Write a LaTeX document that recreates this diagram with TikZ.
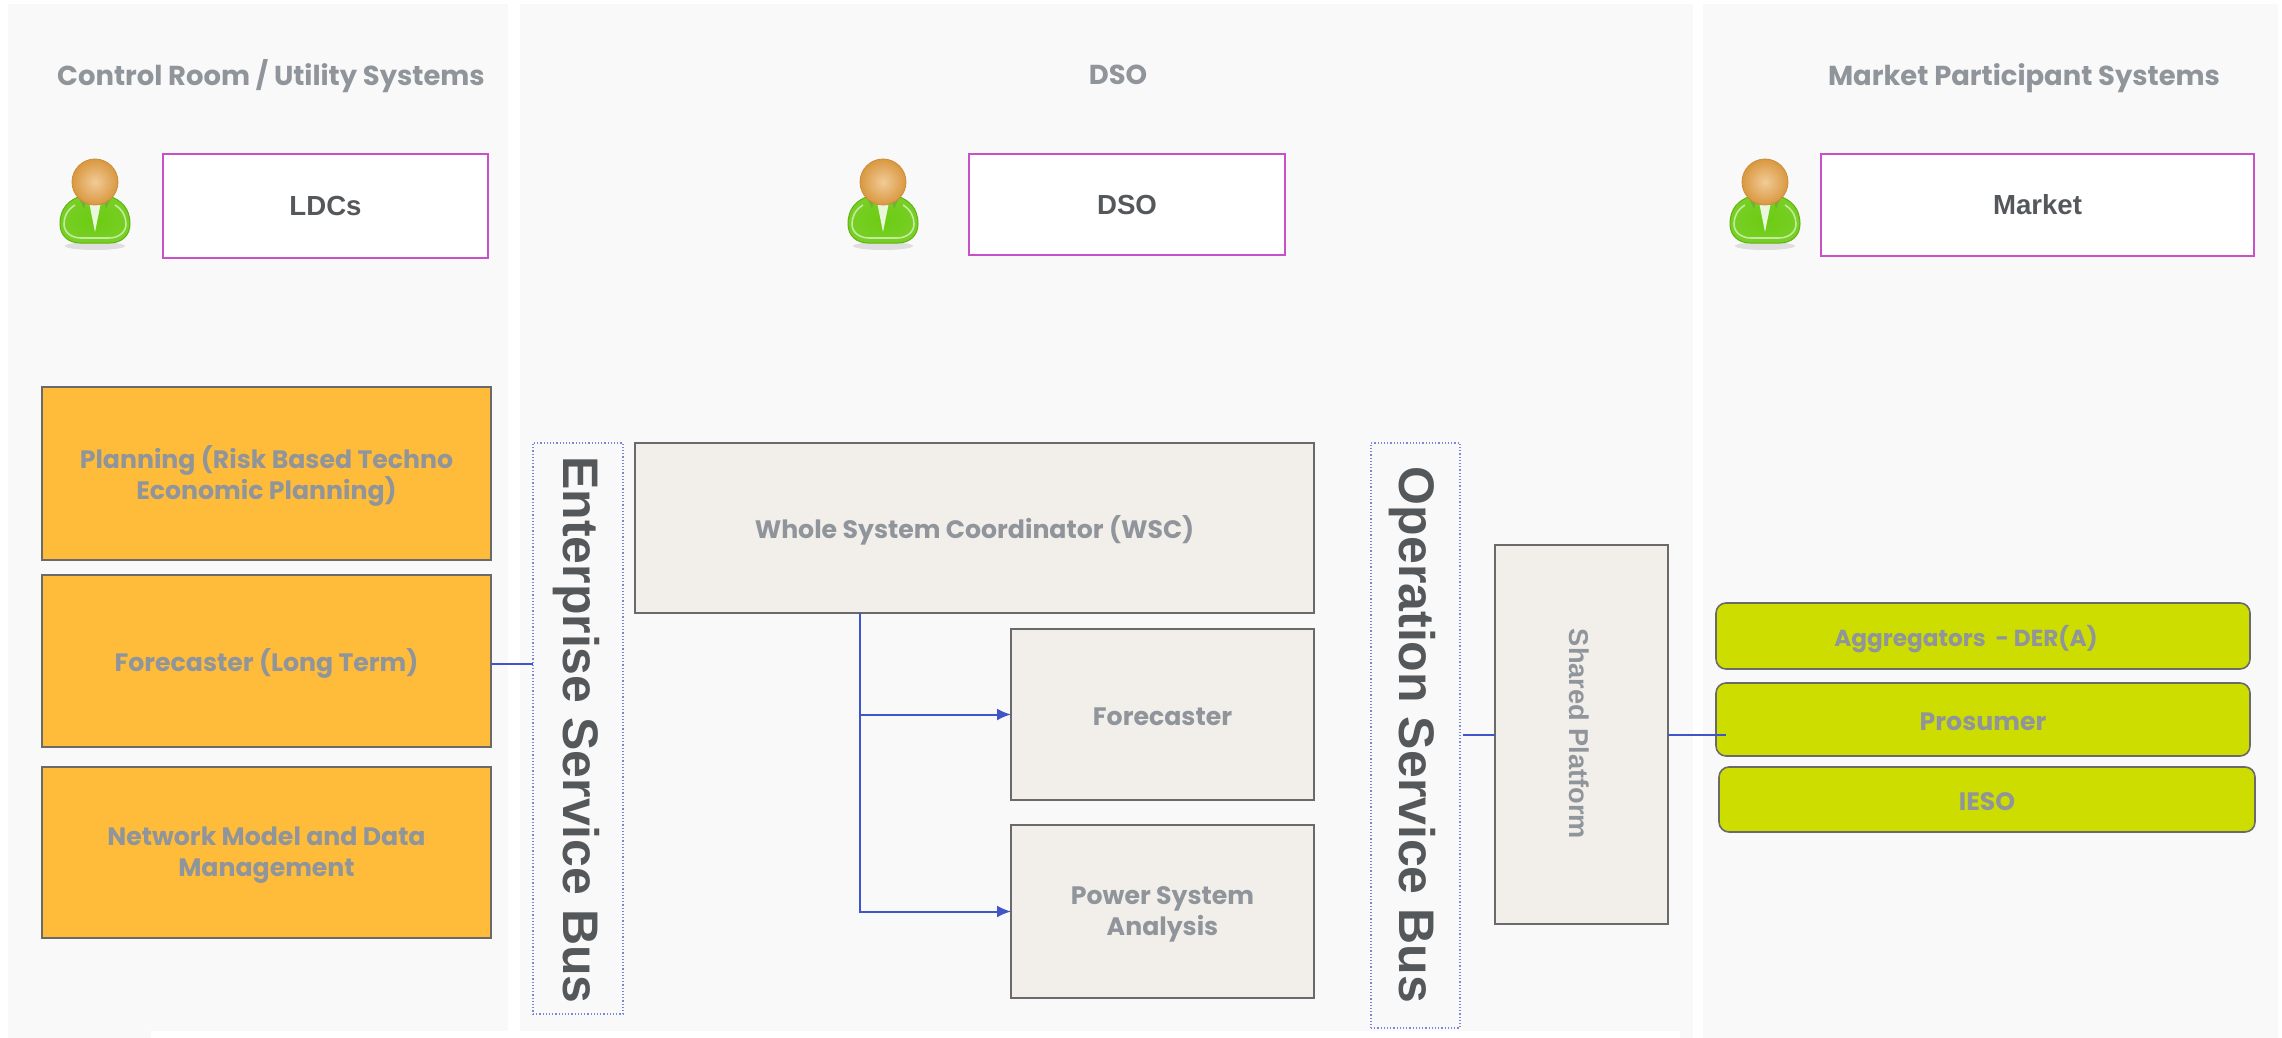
\documentclass[tikz,border=0pt]{standalone}
\usepackage{fontspec}
\setmainfont{Poppins}
\newfontfamily\busfont{Liberation Sans}
\usetikzlibrary{arrows.meta}
\definecolor{panelc}{HTML}{F9F9F9}
\definecolor{orangec}{HTML}{FFBC3B}
\definecolor{beigec}{HTML}{F2EFEB}
\definecolor{limec}{HTML}{CEDD00}
\definecolor{edgec}{HTML}{6A6A6A}
\definecolor{textc}{HTML}{8F959A}
\definecolor{darkc}{HTML}{55585B}
\definecolor{bluec}{HTML}{3F55C8}
\definecolor{magc}{HTML}{C850C8}
\definecolor{bodyc}{HTML}{6CCB12}
\definecolor{headc}{HTML}{E5A043}
\newcommand{\bx}[7][]{%
  \pgfmathsetmacro\mycx{(#3+#5)/2}%
  \pgfmathsetmacro\mycy{(#4+#6)/2}%
  \pgfmathsetmacro\myw{(#5-#3)*0.5}%
  \pgfmathsetmacro\myh{(#6-#4)*0.5}%
  \node[#1,minimum width=\myw pt,minimum height=\myh pt] (#2) at (\mycx,\mycy) {#7};}
\tikzset{
  base/.style={inner sep=0pt,outer sep=0pt,align=center},
  boxtext/.style={inner sep=0pt,outer sep=0pt,align=center,yshift=-1.3pt,text=textc,font=\fontsize{12.6}{15.6}\selectfont\bfseries},
  panel/.style={base,fill=panelc},
  actor/.style={base,draw=magc,line width=0.7pt,fill=white,text=darkc,font=\busfont\fontsize{13.8}{16}\selectfont\bfseries},
  orangebox/.style={base,draw=edgec,line width=0.8pt,fill=orangec},
  greybox/.style={base,draw=edgec,line width=0.8pt,fill=beigec},
  limebox/.style={base,draw=edgec,line width=0.8pt,fill=limec,rounded corners=5pt},
  busbox/.style={base,draw=bluec!70,densely dotted,line width=0.6pt},
  buslabel/.style={inner sep=0pt,outer sep=0pt,rotate=-90,text=darkc,font=\busfont\fontsize{25}{28}\selectfont\bfseries},
  sharedlabel/.style={inner sep=0pt,outer sep=0pt,rotate=-90,text=textc,font=\busfont\fontsize{13.6}{16}\selectfont\bfseries},
  title/.style={inner sep=0pt,outer sep=0pt,text=textc,font=\fontsize{13.7}{16}\selectfont\bfseries},
  link/.style={draw=bluec,line width=0.7pt},
  arrowlink/.style={draw=bluec,line width=1pt,-{Latex[length=7pt,width=6pt]}},
  personicon/.pic={
    \fill[black,opacity=.10] (0,64) ellipse [x radius=30,y radius=4];
    \shade[draw=bodyc!88!black,line width=.5pt,inner color=bodyc,outer color=bodyc!92!white]
      (-35,42) .. controls (-35,26) and (-26,18) .. (-14,14) -- (14,14)
      .. controls (26,18) and (35,26) .. (35,42)
      .. controls (35,54) and (26,61) .. (15,61) -- (-15,61)
      .. controls (-26,61) and (-35,54) .. (-35,42) -- cycle;
    \draw[bodyc!40!white,line width=.8pt]
      (-20,23) .. controls (-28,28) and (-31,35) .. (-31,42)
      .. controls (-31,50) and (-24,56) .. (-14,56) -- (14,56)
      .. controls (24,56) and (31,50) .. (31,42)
      .. controls (31,35) and (28,28) .. (20,23);
    \fill[white!85!bodyc] (-6,20) -- (6,20) -- (0,50) -- cycle;
    \fill[gray!35!bodyc] (-15,18) -- (-9,18) -- (-11,27) -- cycle;
    \fill[gray!35!bodyc] (15,18) -- (9,18) -- (11,27) -- cycle;
    \shade[draw=headc!88!black,line width=.4pt,inner color=headc!55!white,outer color=headc!95!black]
      (0,0) ellipse [x radius=23,y radius=23];
  }
}
\begin{document}
\begin{tikzpicture}[x=0.5pt,y=-0.5pt]
\useasboundingbox (0,0) rectangle (2282,1038);
\fill[white] (0,0) rectangle (2282,1038);
\bx[panel]{pleft}{8}{4}{508}{1038}{}
\bx[panel]{pmid}{520}{4}{1693}{1038}{}
\bx[panel]{pright}{1703}{4}{2278}{1038}{}
\fill[white] (151,1031) rectangle (1680,1038);
\node[title] (t1) at (271,76) {Control Room / Utility Systems};
\node[title] (t2) at (1118,75) {DSO};
\node[title] (t3) at (2024,78) {Market Participant Systems};
\pic at (95,182) {personicon};
\pic at (883,182) {personicon};
\pic at (1765,182) {personicon};
\bx[actor]{ldc}{163}{154}{488}{258}{LDCs}
\bx[actor]{dso}{969}{154}{1285}{255}{DSO}
\bx[actor]{mkt}{1821}{154}{2254}{256}{Market}
\bx[orangebox]{plan}{42}{387}{491}{560}{}
\node[boxtext] (plant) at (plan) {Planning (Risk Based Techno\\Economic Planning)};
\bx[orangebox]{fl}{42}{575}{491}{747}{}
\node[boxtext] (flt) at (fl) {Forecaster (Long Term)};
\bx[orangebox]{net}{42}{767}{491}{938}{}
\node[boxtext] (nett) at (net) {Network Model and Data\\Management};
\bx[busbox]{esb}{533}{443}{623}{1014}{}
\node[buslabel] (esbl) at (576,730) {Enterprise Service Bus};
\bx[greybox]{wsc}{635}{443}{1314}{613}{}
\node[boxtext] (wsct) at (wsc) {Whole System Coordinator (WSC)};
\bx[greybox]{fc}{1011}{629}{1314}{800}{}
\node[boxtext] (fct) at (fc) {Forecaster};
\bx[greybox]{psa}{1011}{825}{1314}{998}{}
\node[boxtext] (psat) at (psa) {Power System\\Analysis};
\bx[busbox]{osb}{1371}{443}{1460}{1028}{}
\node[buslabel] (osbl) at (1412,735) {Operation Service Bus};
\bx[greybox]{sp}{1495}{545}{1668}{924}{}
\node[sharedlabel] (spl) at (1579,734) {Shared Platform};
\bx[limebox]{agg}{1716}{603}{2250}{669}{}
\node[boxtext,font=\fontsize{11.6}{15}\selectfont\bfseries] (aggt) at (1966,636) {Aggregators\ \ - DER(A)};
\bx[limebox]{pro}{1716}{683}{2250}{756}{}
\node[boxtext] (prot) at (pro) {Prosumer};
\bx[limebox]{ieso}{1719}{767}{2255}{832}{}
\node[boxtext] (iesot) at (ieso) {IESO};
\coordinate (stub) at (1726,735);
\coordinate (wscfoot) at (859.5,613);
\coordinate (osbstub) at (1463,735);
\draw[link] (fl.east |- 0,664) -- (esb.west |- 0,664);
\draw[arrowlink] (wscfoot) |- (fc.west);
\draw[arrowlink] (wscfoot) |- (psa.west);
\draw[link] (osbstub) -- (sp.west |- osbstub);
\draw[link] (sp.east |- stub) -- (stub);
\end{tikzpicture}
\end{document}
